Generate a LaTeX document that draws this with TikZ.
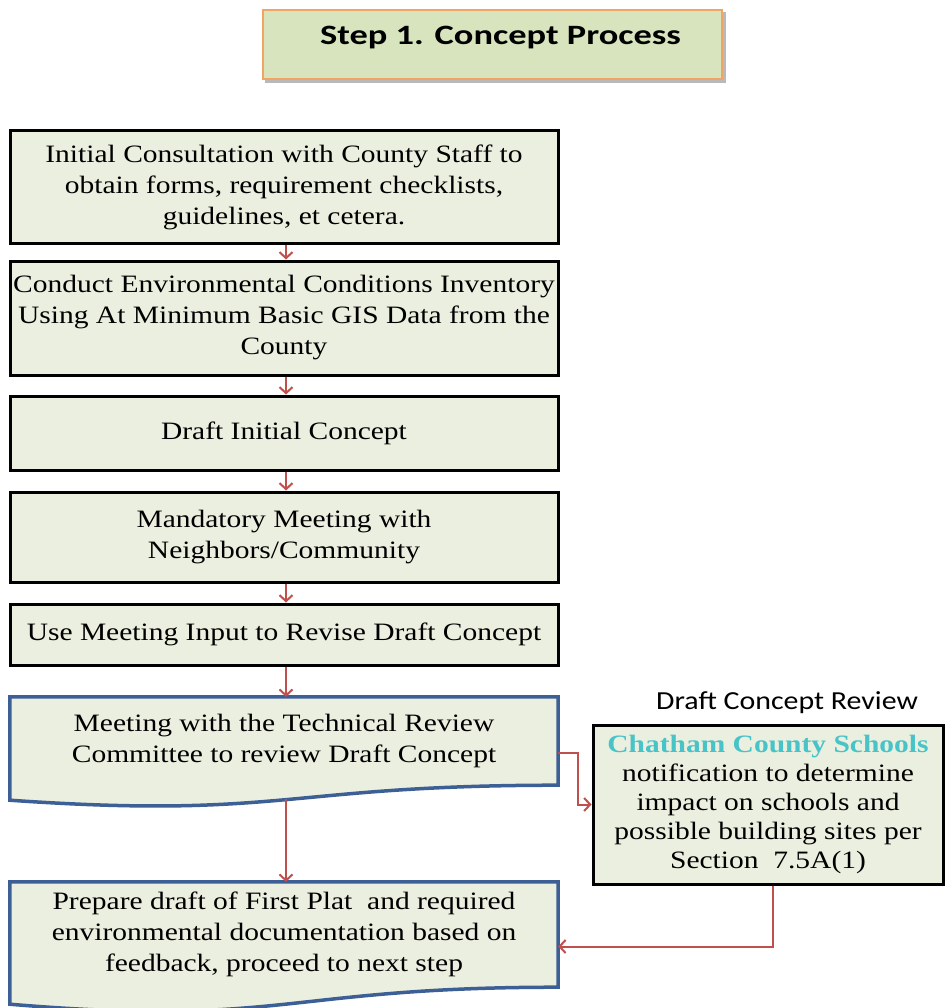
\documentclass[tikz,border=0pt]{standalone}
\usepackage{fontspec}
\setmainfont{Liberation Serif}[FakeStretch=1.18]
\newfontfamily\titlefont{Carlito}[FakeStretch=1.3]
\newfontfamily\labelfont{Carlito}[FakeStretch=1.15]
\usetikzlibrary{arrows.meta,calc,backgrounds}
\definecolor{boxfill}{RGB}{235,239,223}
\definecolor{titlefill}{RGB}{216,228,189}
\definecolor{titleedge}{RGB}{240,165,100}
\definecolor{docblue}{RGB}{60,96,150}
\definecolor{arrowred}{RGB}{192,80,77}
\definecolor{schoolcyan}{RGB}{72,196,200}
\begin{document}
\begin{tikzpicture}[x=1pt,y=-1pt,
  txt/.style={font=\fontsize{25}{31}\selectfont, align=center, inner sep=0pt},
  stepbox/.style={txt, draw=black, line width=3pt, fill=boxfill, minimum width=548pt},
  docbox/.style={txt, minimum width=548pt},
  docedge/.style={draw=docblue, line width=3.5pt, fill=boxfill, line join=miter},
  conn/.style={draw=arrowred, line width=2pt, -{Straight Barb[length=6pt,width=13pt,line width=2pt]}}
]
\useasboundingbox (0,0) rectangle (944,1008);

% title
\node[draw=titleedge, line width=1.2pt, fill=titlefill, minimum width=459pt, minimum height=69pt, inner sep=0pt] (title) at (492.5,44.5) {};
\node[font=\titlefont\bfseries\fontsize{28}{30}\selectfont, inner sep=0pt] (titletext) at ($(title.center)+(8,-7)$) {Step 1. Concept Process};

% main column
\node[stepbox, minimum height=112pt] (b1) at (284,187) {Initial Consultation with County Staff to\\obtain forms, requirement checklists,\\guidelines, et cetera.};
\node[stepbox, minimum height=114pt] (b2) at (284,318) {Conduct Environmental Conditions Inventory\\Using At Minimum Basic GIS Data from the\\County};
\node[stepbox, minimum height=74pt] (b3) at (284,433) {Draft Initial Concept};
\node[stepbox, minimum height=90pt] (b4) at (284,537) {Mandatory Meeting with\\Neighbors/Community};
\node[stepbox, minimum height=61pt] (b5) at (284,634.5) {Use Meeting Input to Revise Draft Concept};
\node[docbox, minimum height=88pt] (b6) at (284,741) {Meeting with the Technical Review\\Committee to review Draft Concept};
\node[docbox, minimum height=105pt] (b7) at (284,934.5) {Prepare draft of First Plat\ \ and required\\environmental documentation based on\\feedback, proceed to next step};

% side box
\node[font=\labelfont\fontsize{26}{30}\selectfont, inner sep=0pt] (lbl) at (787,703) {Draft Concept Review};
\node[stepbox, minimum width=350pt, minimum height=159pt, font=\fontsize{25}{29}\selectfont] (r) at (768,804.5)
  {{\bfseries\color{schoolcyan}Chatham County Schools}\\notification to determine\\impact on schools and\\possible building sites per\\Section\ \ 7.5A(1)};

\begin{scope}[on background layer]
  \fill[white] (0,0) rectangle (944,1008);
  \fill[gray!55] ($(title.north west)+(3,3)$) rectangle ($(title.south east)+(3,3)$);
  \path[docedge] (b6.north west) -- (b6.north east) -- (b6.south east)
    .. controls (b6.south) and ($(b6.south)+(0,34)$) .. ($(b6.south west)+(0,15)$) -- cycle;
  \path[docedge] (b7.north west) -- (b7.north east) -- (b7.south east)
    .. controls (b7.south) and ($(b7.south)+(0,40)$) .. ($(b7.south west)+(0,17)$) -- cycle;
\end{scope}

% connectors
\coordinate (b6end) at ($(b6.south)+(2,14)$);
\draw[conn] ($(b1.south)+(2,0)$) -- ($(b2.north)+(2,0)$);
\draw[conn] ($(b2.south)+(2,0)$) -- ($(b3.north)+(2,0)$);
\draw[conn] ($(b3.south)+(2,0)$) -- ($(b4.north)+(2,0)$);
\draw[conn] ($(b4.south)+(2,0)$) -- ($(b5.north)+(2,0)$);
\draw[conn] ($(b5.south)+(2,0)$) -- ($(b6.north)+(2,0)$);
\draw[conn] (b6end) -- ($(b7.north)+(2,0)$);
\draw[conn] ($(b6.east)+(0,12)$) -- ++(20,0) |- (r.west);
\draw[conn] ($(r.south)+(5,0)$) |- ($(b7.east)+(0,12)$);
\end{tikzpicture}
\end{document}
